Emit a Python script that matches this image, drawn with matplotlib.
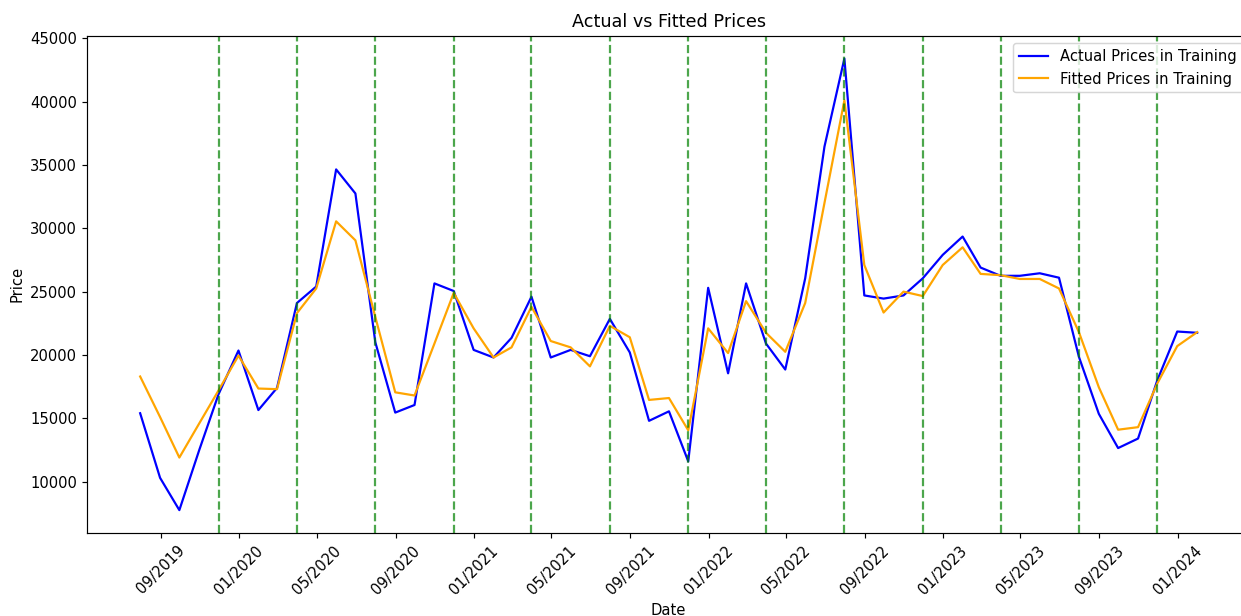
import numpy as np
import pandas as pd
import matplotlib
matplotlib.use("Agg")
import matplotlib.pyplot as plt
import matplotlib.dates as mdates

# monthly (month end) prices, Jul 2019 .. Jan 2024
dates = pd.date_range("2019-07-31", "2024-01-31", freq="ME")

actual = [15400, 10300, 7750, 12500, 16900, 20350, 15650, 17400, 24100, 25400,
          34650, 32750, 21000, 15450, 16050, 25650, 25050, 20400, 19800, 21350,
          24600, 19800, 20400, 19900, 22850, 20200, 14800, 15550, 11600, 25300,
          18550, 25650, 20900, 18850, 26050, 36450, 43400, 24700, 24450, 24700,
          26050, 27900, 29350, 26900, 26250, 26250, 26450, 26100, 19850, 15350,
          12650, 13400, 18000, 21850, 21750]

fitted = [18300, 15100, 11900, 14600, 17200, 19950, 17350, 17300, 23300, 25250,
          30550, 29050, 23000, 17050, 16800, 20900, 24900, 22100, 19800, 20600,
          23800, 21100, 20600, 19100, 22300, 21400, 16450, 16600, 14050, 22100,
          20150, 24250, 21750, 20250, 24100, 32000, 40100, 27100, 23350, 25000,
          24650, 27100, 28500, 26400, 26300, 26000, 26000, 25250, 21800, 17450,
          14100, 14300, 17750, 20700, 21800]

# fold boundaries every 4 months
split_dates = dates[4::4]

DPI = 106
fig = plt.figure(figsize=(1241 / DPI, 616 / DPI), dpi=DPI)
# axes runs a bit past the right edge, like the cropped original
ax = fig.add_axes([87.3 / 1241, 83.3 / 616, (1250 - 87.3) / 1241, (532.7 - 36) / 616])

ax.plot(dates, actual, color="blue", label="Actual Prices in Training")
ax.plot(dates, fitted, color="orange", label="Fitted Prices in Training")
for d in split_dates:
    ax.axvline(d, color="green", linestyle="--", alpha=0.7)

ax.xaxis.set_major_locator(mdates.MonthLocator(bymonth=[1, 5, 9]))
ax.xaxis.set_major_formatter(mdates.DateFormatter("%m/%Y"))
plt.setp(ax.get_xticklabels(), rotation=45)

ax.set_title("Actual vs Fitted Prices")
ax.set_xlabel("Date")
ax.set_ylabel("Price")
ax.legend(loc="upper right")

fig.savefig("out.png", dpi=DPI)
